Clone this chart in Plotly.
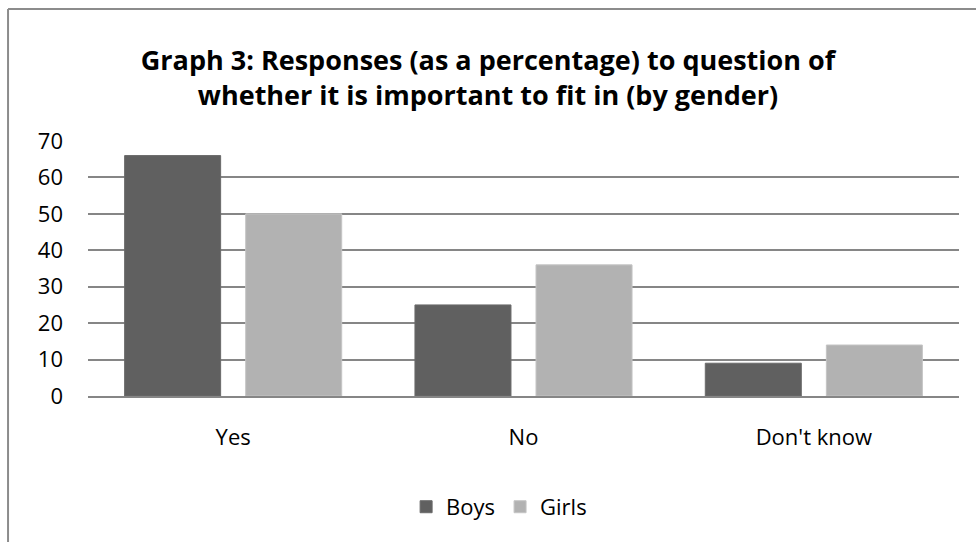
import plotly.graph_objects as go

categories = ["Yes", "No", "Don't know"]
boys = [66, 25, 9]
girls = [50, 36, 14]
y_ticks = [0, 10, 20, 30, 40, 50, 60, 70]

FONT = "Open Sans"

fig = go.Figure()
fig.add_trace(go.Bar(x=categories, y=boys, name="Boys",
                     marker=dict(color="#606060", line=dict(color="#6a6a6a", width=1))))
fig.add_trace(go.Bar(x=categories, y=girls, name="Girls",
                     marker=dict(color="#b2b2b2", line=dict(color="#c4c4c4", width=1))))

fig.update_layout(
    width=976, height=542,
    margin=dict(l=88, r=17, t=141, b=146),
    paper_bgcolor="white", plot_bgcolor="white",
    barmode="group", bargap=0.166, bargroupgap=0.207,
    font=dict(family=FONT, color="#000000", size=22),
    title=dict(
        text="<b>Graph 3: Responses (as a percentage) to question of<br>whether it is important to fit in (by gender)</b>",
        x=0.5, xanchor="center", y=1 - 70 / 542, yanchor="middle",
        font=dict(family=FONT, size=27, color="#000000"),
    ),
    xaxis=dict(showgrid=False, showline=True, linecolor="#868686", linewidth=2,
               ticks="", ticklabelstandoff=21, tickfont=dict(size=22)),
    yaxis=dict(range=[0, 70], tickvals=y_ticks, showgrid=True, gridcolor="#868686",
               gridwidth=2, zeroline=False, showline=False, ticks="",
               ticklabelstandoff=24, tickfont=dict(size=22)),
    legend=dict(orientation="h", x=0.472, xanchor="center", y=-0.435, yanchor="middle",
                font=dict(size=22), itemwidth=30, traceorder="normal"),
    showlegend=True,
    shapes=[
        dict(type="line", xref="paper", yref="paper",
             x0=-0.0918, x1=1.1, y0=1.5176, y1=1.5176,
             line=dict(color="#8c8c8c", width=2)),
        dict(type="line", xref="paper", yref="paper",
             x0=-0.0918, x1=-0.0918, y0=1.5176, y1=-0.7,
             line=dict(color="#8c8c8c", width=2)),
    ],
)

fig.write_html("out.html")
